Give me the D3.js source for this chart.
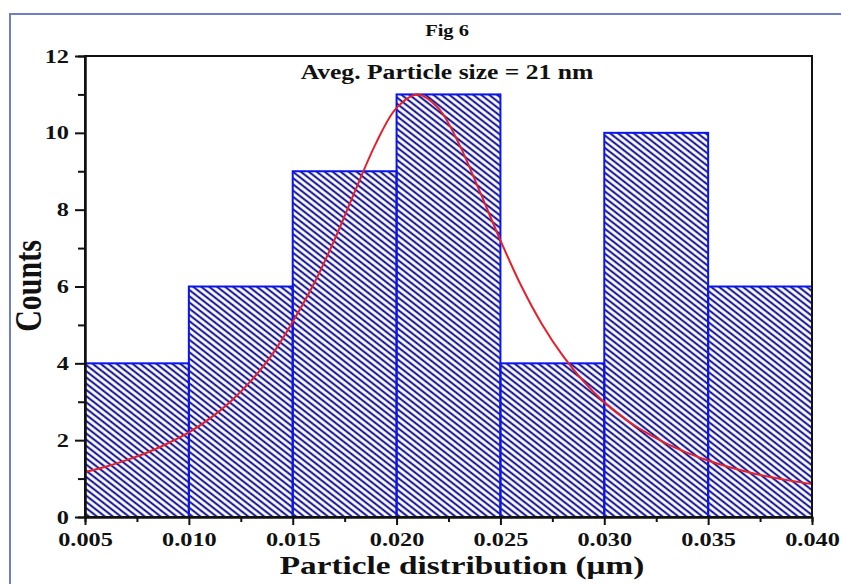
<!DOCTYPE html>
<html>
<head>
<meta charset="utf-8">
<script src="https://cdn.jsdelivr.net/npm/d3@7"></script>
<style>
  html, body { margin: 0; padding: 0; background: #fff; }
  svg { display: block; }
  text { font-family: "Liberation Serif", "Times New Roman", serif; font-weight: bold; fill: #111; }
</style>
</head>
<body>
<div id="root"></div>
<script>

// histogram bins (left edge, width 0.005 um) and counts
const bin_starts = [0.005, 0.010, 0.015, 0.020, 0.025, 0.030, 0.035]
const bin_width = 0.005
const counts = [4, 6, 9, 11, 4, 10, 6]

// fitted curve
const fit_x = [0.005, 0.006, 0.007, 0.008, 0.009, 0.010, 0.011, 0.012, 0.013, 0.014,
               0.015, 0.016, 0.017, 0.018, 0.019, 0.020, 0.021, 0.022, 0.023, 0.024,
               0.025, 0.026, 0.027, 0.028, 0.029, 0.030, 0.031, 0.032, 0.033, 0.034,
               0.035, 0.036, 0.037, 0.038, 0.039, 0.040]
const fit_y = [1.17, 1.31, 1.48, 1.68, 1.92, 2.20, 2.56, 3.00, 3.55, 4.22,
               5.08, 6.05, 7.20, 8.48, 9.72, 10.65, 11.0, 10.65, 9.72, 8.48,
               7.20, 6.02, 5.02, 4.20, 3.53, 2.99, 2.55, 2.20, 1.91, 1.67,
               1.47, 1.30, 1.16, 1.04, 0.94, 0.86]

const x_ticks = [0.005, 0.010, 0.015, 0.020, 0.025, 0.030, 0.035, 0.040]
const x_minor = [0.0075, 0.0125, 0.0175, 0.0225, 0.0275, 0.0325, 0.0375]
const y_ticks = [0, 2, 4, 6, 8, 10, 12]
const y_minor = [1, 3, 5, 7, 9, 11]

const title_text = "Fig 6"
const note_text = "Aveg. Particle size = 21 nm"
const x_label = "Particle distribution (\u03bcm)"
const y_label = "Counts"

// the source picture is stretched sideways, text follows that
const sx = 1.28

const W = 841, H = 584
const margin = {top: 56, right: 29, bottom: 67, left: 85}
const width = W - margin.left - margin.right
const height = H - margin.top - margin.bottom

const svg = d3.select("#root").append("svg")
  .attr("width", W)
  .attr("height", H)

// light blue frame (only left and top survive the crop)
svg.append("path")
  .attr("d", `M10,${H} L10,14 L${W},14`)
  .attr("fill", "none")
  .attr("stroke", "#6f7fc6")
  .attr("stroke-width", 2)

const hatch_gap = 4.4
const defs = svg.append("defs")
defs.append("pattern")
  .attr("id", "hatch")
  .attr("patternUnits", "userSpaceOnUse")
  .attr("width", hatch_gap)
  .attr("height", hatch_gap)
  .attr("patternTransform", `scale(${sx},1) rotate(-45)`)
  .append("line")
  .attr("x1", hatch_gap / 2).attr("y1", -1)
  .attr("x2", hatch_gap / 2).attr("y2", hatch_gap + 1)
  .attr("stroke", "#1c1c96")
  .attr("stroke-width", 1.9)

const g = svg.append("g")
  .attr("transform", "translate(" + margin.left + "," + margin.top + ")")

const x_scale = d3.scaleLinear()
  .domain([0.005, 0.040])
  .range([0, width])

const y_scale = d3.scaleLinear()
  .domain([0, 12])
  .range([height, 0])

// bars
g.append("g").selectAll("rect")
  .data(bin_starts)
  .enter()
  .append("rect")
  .attr("x", (d) => x_scale(d))
  .attr("y", (d, i) => y_scale(counts[i]))
  .attr("width", (d) => x_scale(d + bin_width) - x_scale(d))
  .attr("height", (d, i) => height - y_scale(counts[i]))
  .attr("fill", "url(#hatch)")
  .attr("stroke", "#0a14f0")
  .attr("stroke-width", 2)

// fit curve
const line = d3.line()
  .x((d, i) => x_scale(fit_x[i]))
  .y((d) => y_scale(d))
  .curve(d3.curveCatmullRom)

g.append("path")
  .datum(fit_y)
  .attr("d", line)
  .attr("fill", "none")
  .attr("stroke", "#e5202c")
  .attr("stroke-width", 2)

// frame box
g.append("rect")
  .attr("width", width)
  .attr("height", height)
  .attr("fill", "none")
  .attr("stroke", "#111")
  .attr("stroke-width", 2)

// axes
const x_axis = g.append("g")
  .attr("transform", "translate(0," + height + ")")
  .call(d3.axisBottom(x_scale).tickValues(x_ticks).tickSize(8).tickSizeOuter(0)
    .tickPadding(8).tickFormat(d3.format(".3f")))
g.append("g")
  .attr("transform", "translate(0," + height + ")")
  .call(d3.axisBottom(x_scale).tickValues(x_minor).tickSize(5).tickFormat(""))

const y_axis = g.append("g")
  .call(d3.axisLeft(y_scale).tickValues(y_ticks).tickSize(10).tickSizeOuter(0).tickFormat(d3.format("d")))
g.append("g")
  .call(d3.axisLeft(y_scale).tickValues(y_minor).tickSize(7).tickFormat(""))

g.selectAll(".domain").attr("stroke", "#111").attr("stroke-width", 2)
g.selectAll(".tick line").attr("stroke", "#111").attr("stroke-width", 2)

x_axis.selectAll("text")
  .attr("font-size", 19)
  .attr("font-family", null)
  .attr("transform", `scale(${sx},1)`)

y_axis.selectAll("text")
  .attr("font-size", 19)
  .attr("font-family", null)
  .attr("x", -16 / sx)
  .attr("transform", `scale(${sx},1)`)

g.selectAll(".tick text").attr("fill", "#111")

// texts
const stretched = (x, y, txt, size) =>
  svg.append("text")
    .attr("transform", `translate(${x},${y}) scale(${sx},1)`)
    .attr("text-anchor", "middle")
    .attr("font-size", size)
    .text(txt)

stretched(447, 36, title_text, 16)
stretched(447, 79, note_text, 20)
stretched(462, 574, x_label, 26)

svg.append("text")
  .attr("transform", `translate(41,286) scale(${sx},1) rotate(-90)`)
  .attr("text-anchor", "middle")
  .attr("font-size", 30)
  .text(y_label)

</script>
</body>
</html>
